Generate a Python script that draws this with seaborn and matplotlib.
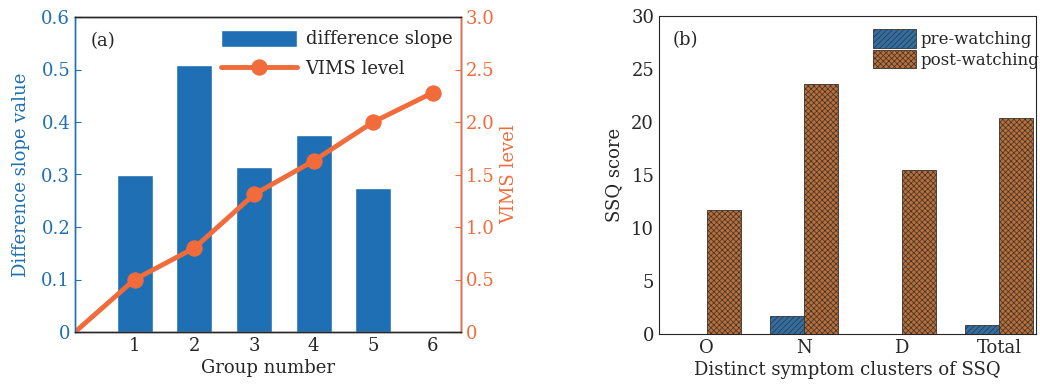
import numpy as np
import pandas as pd
import matplotlib
matplotlib.use("Agg")
import matplotlib.pyplot as plt
import seaborn as sns

# dados
grupos = [1, 2, 3, 4, 5, 6]
diff_slope = [0.30, 0.508, 0.315, 0.375, 0.275, 0.0]
vims_x = [0, 1, 2, 3, 4, 5, 6]
vims_level = [0.0, 0.50, 0.80, 1.31, 1.63, 2.0, 2.28]

clusters = ["O", "N", "D", "Total"]
pre_watch = [0.0, 1.7, 0.0, 0.85]
post_watch = [11.7, 23.6, 15.5, 20.4]

azul = "#1f6fb4"
laranja = "#f26b3a"

sns.set_style("white")
plt.rcParams["font.family"] = ["DejaVu Serif"]
plt.rcParams["font.size"] = 12
plt.rcParams["hatch.linewidth"] = 0.5
plt.rcParams["xtick.direction"] = "in"
plt.rcParams["ytick.direction"] = "in"

fig = plt.figure(figsize=(10.4, 3.84), dpi=100)
ax1 = fig.add_axes([75 / 1040, 1 - 332 / 384, 386 / 1040, 315 / 384])
ax3 = fig.add_axes([659 / 1040, 1 - 334 / 384, 377 / 1040, 318 / 384])

# (a) barras + linha
df_a = pd.DataFrame({"grupo": grupos, "slope": diff_slope})
ax1.bar(df_a["grupo"], df_a["slope"], width=0.6, color=azul, label="difference slope")
ax1.set_xlim(0, 6.47)
ax1.set_ylim(0, 0.6)
ax1.set_xticks(grupos)
ax1.set_yticks(np.arange(0, 0.61, 0.1))
ax1.set_yticklabels(["0"] + [f"{v:.1f}" for v in np.arange(0.1, 0.61, 0.1)])
ax1.set_xlabel("Group number", fontsize=13, labelpad=3)
ax1.set_ylabel("Difference slope value", color=azul, fontsize=13, labelpad=8)
ax1.tick_params(axis="y", colors=azul, labelsize=13, length=4)
ax1.tick_params(axis="x", labelsize=13, length=4)
ax1.spines["left"].set_color(azul)
ax1.text(0.04, 0.925, "(a)", fontsize=13, va="center", transform=ax1.transAxes)

ax2 = ax1.twinx()
df_v = pd.DataFrame({"x": vims_x, "v": vims_level})
sns.lineplot(data=df_v, x="x", y="v", ax=ax2, color=laranja, lw=3.5,
             marker="o", markersize=11, markevery=list(range(1, len(vims_x))),
             markeredgecolor=laranja, label="VIMS level", legend=False)
ax2.set_xlim(0, 6.47)
ax2.set_ylim(0, 3.0)
ax2.set_yticks(np.arange(0, 3.01, 0.5))
ax2.set_yticklabels(["0"] + [f"{v:.1f}" for v in np.arange(0.5, 3.01, 0.5)])
ax2.set_ylabel("VIMS level", color=laranja, fontsize=13, labelpad=4)
ax2.tick_params(axis="y", colors=laranja, labelsize=13, length=4, direction="in")
ax2.spines["right"].set_color(laranja)
ax2.spines["left"].set_color(azul)
ax2.set_xlabel("")
for ax in (ax1, ax2):
    for s in ax.spines.values():
        s.set_linewidth(1.0)

h1, l1 = ax1.get_legend_handles_labels()
h2, l2 = ax2.get_legend_handles_labels()
ax2.legend(h1 + h2, l1 + l2, loc="upper left", bbox_to_anchor=(0.345, 1.0),
           frameon=False, fontsize=13, handlelength=4.2, handleheight=1.1,
           labelspacing=0.6, handletextpad=0.5, borderaxespad=0.3)

# (b) barras agrupadas com hachura
df_b = pd.DataFrame({
    "cluster": clusters * 2,
    "score": pre_watch + post_watch,
    "fase": ["pre-watching"] * 4 + ["post-watching"] * 4,
})
sns.barplot(data=df_b, x="cluster", y="score", hue="fase", ax=ax3,
            palette={"pre-watching": azul, "post-watching": "#d46a1e"},
            width=0.7, errorbar=None, edgecolor="#333333", linewidth=0.6)
hatches = {"pre-watching": "//////", "post-watching": "xxxxxx"}
for cont, nome in zip(ax3.containers, ["pre-watching", "post-watching"]):
    for p in cont:
        p.set_hatch(hatches[nome])
ax3.set_xlim(-0.49, 3.38)
ax3.set_ylim(0, 30)
ax3.set_yticks(range(0, 31, 5))
ax3.set_xlabel("Distinct symptom clusters of SSQ", fontsize=13, labelpad=3)
ax3.set_ylabel("SSQ score", fontsize=13, labelpad=6)
ax3.tick_params(labelsize=13, length=4)
ax3.text(0.035, 0.925, "(b)", fontsize=13, va="center", transform=ax3.transAxes)
leg = ax3.legend(loc="upper left", bbox_to_anchor=(0.54, 0.99), frameon=False,
                 fontsize=12, handlelength=2.6, handleheight=1.35,
                 labelspacing=0.1, handletextpad=0.3, borderaxespad=0.2)
for p, nome in zip(leg.get_patches(), ["pre-watching", "post-watching"]):
    p.set_hatch(hatches[nome])

fig.savefig("out.png", dpi=100)
